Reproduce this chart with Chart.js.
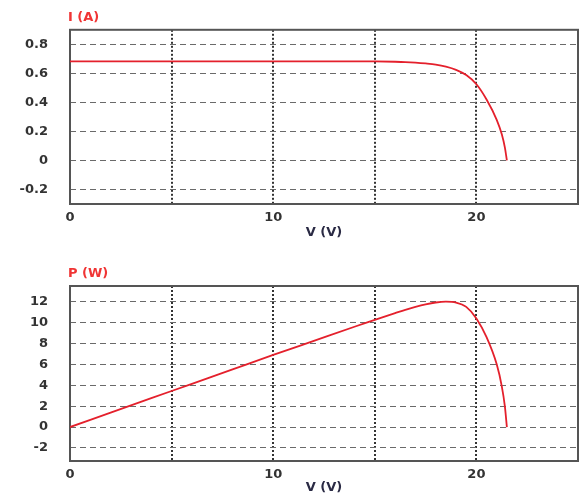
<!DOCTYPE html>
<html>
<head>
  <meta charset="UTF-8" />
  <title>I-V / P-V</title>
  <script src="https://cdn.jsdelivr.net/npm/chart.js@4.4.1/dist/chart.umd.min.js"></script>
  <style>
    body { margin: 0; background: #fff; }
    .box { position: relative; width: 580px; }
    #top { height: 245px; }
    #bot { height: 250px; }
  </style>
</head>
<body>
  <div class="box" id="top"><canvas id="ivChart"></canvas></div>
  <div class="box" id="bot"><canvas id="pvChart"></canvas></div>

  <script>
    // valeurs
    const volts = [0, 2, 4, 6, 8, 10, 12, 14, 15, 16, 16.5, 17, 17.5, 18, 18.5, 19, 19.5, 20, 20.5, 21, 21.25, 21.4, 21.5];
    const current = [0.683, 0.683, 0.683, 0.683, 0.683, 0.683, 0.683, 0.683, 0.682, 0.680, 0.678, 0.674, 0.668, 0.660, 0.646, 0.624, 0.588, 0.525, 0.42, 0.28, 0.18, 0.09, 0];
    const power = [0, 1.38, 2.76, 4.14, 5.52, 6.9, 8.25, 9.6, 10.25, 10.9, 11.22, 11.5, 11.74, 11.92, 12.0, 11.92, 11.5, 10.4, 8.6, 6.0, 3.9, 2.0, 0];

    const xTicks = [0, 5, 10, 15, 20, 25];
    const xLabelled = [0, 10, 20];
    const iTicks = [-0.2, 0, 0.2, 0.4, 0.6, 0.8];
    const pTicks = [-2, 0, 2, 4, 6, 8, 10, 12];

    const red = "#e4202c";
    const tickFont = { family: "DejaVu Sans", size: 13, weight: "bold" };

    // cadre + titre de l'axe Y en haut à gauche
    const framePlugin = {
      id: "frame",
      beforeDatasetsDraw(chart, args, opts) {
        const a = chart.chartArea;
        const ctx = chart.ctx;
        ctx.save();
        ctx.strokeStyle = "#555";
        ctx.lineWidth = 2;
        ctx.strokeRect(a.left, a.top, a.right - a.left, a.bottom - a.top);
        ctx.restore();
      },
      afterDraw(chart, args, opts) {
        const a = chart.chartArea;
        const ctx = chart.ctx;
        ctx.save();
        ctx.fillStyle = "#f03434";
        ctx.font = "bold 13px 'DejaVu Sans'";
        ctx.textBaseline = "middle";
        ctx.textAlign = "left";
        ctx.fillText(opts.text, a.left - 2, a.top - 12);
        ctx.restore();
      },
    };

    function makeChart(id, ys, yMin, yMax, yTicks, yTitle, padTop, xHeight, titlePad) {
      const pts = volts.map((v, i) => ({ x: v, y: ys[i] }));
      return new Chart(document.getElementById(id), {
        type: "line",
        data: {
          datasets: [
            {
              data: pts,
              borderColor: red,
              borderWidth: 1.8,
              pointRadius: 0,
              cubicInterpolationMode: "monotone",
              fill: false,
            },
          ],
        },
        options: {
          responsive: true,
          maintainAspectRatio: false,
          animation: false,
          layout: { padding: { top: padTop, right: 0, left: 0, bottom: 0 } },
          plugins: {
            legend: { display: false },
            tooltip: { enabled: false },
            frame: { text: yTitle },
          },
          scales: {
            x: {
              type: "linear",
              min: 0,
              max: 25,
              afterBuildTicks: (s) => { s.ticks = xTicks.map((v) => ({ value: v })); },
              afterFit: (s) => { s.height = xHeight; s.paddingRight = 2; },
              ticks: {
                padding: 6,
                color: "#333",
                font: tickFont,
                maxRotation: 0,
                autoSkip: false,
                callback: (v) => (xLabelled.includes(v) ? String(v) : ""),
              },
              grid: { color: "#333", lineWidth: 2, drawTicks: false },
              border: { display: false, dash: [2, 2] },
              title: {
                display: true,
                text: "V (V)",
                color: "#2a2a44",
                font: tickFont,
                padding: { top: 0, bottom: titlePad },
              },
            },
            y: {
              min: yMin,
              max: yMax,
              afterBuildTicks: (s) => { s.ticks = yTicks.map((v) => ({ value: v })); },
              afterFit: (s) => { s.width = 70; },
              ticks: {
                padding: 22,
                color: "#333",
                font: tickFont,
                autoSkip: false,
                callback: (v) => (v === 0 ? "0" : (Number.isInteger(v) ? String(v) : v.toFixed(1))),
              },
              grid: { color: "#6a6a6a", lineWidth: 1, drawTicks: false },
              border: { display: false, dash: [6, 4] },
            },
          },
        },
        plugins: [framePlugin],
      });
    }

    makeChart("ivChart", current, -0.3, 0.9, iTicks, "I (A)", 29, 41, 5);
    makeChart("pvChart", power, -3.25, 13.5, pTicks, "P (W)", 41, 34, 0);
  </script>
</body>
</html>
